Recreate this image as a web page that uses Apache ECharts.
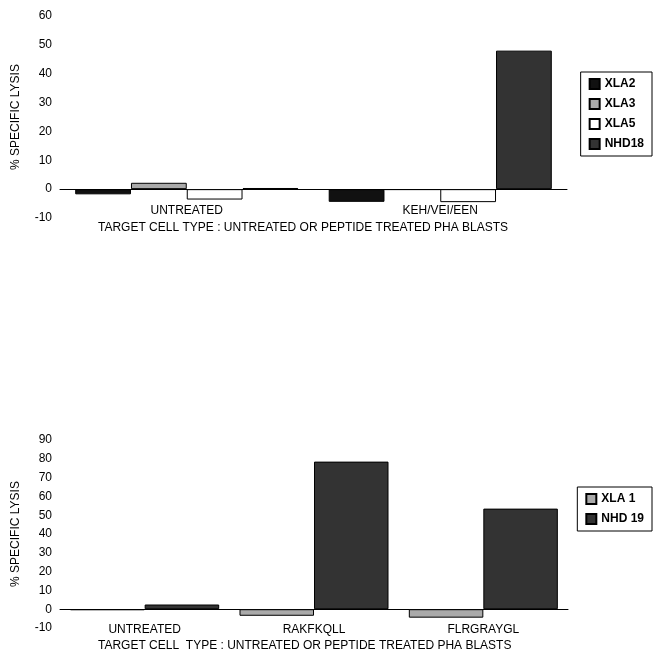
<!DOCTYPE html><html><head><meta charset="utf-8"><script src="https://cdn.jsdelivr.net/npm/echarts@6/dist/echarts.min.js"></script>
<style>body{margin:0;background:#fff}#c{width:658px;height:661px}</style></head><body><div id="c"></div><script>
const cats1=['UNTREATED','KEH/VEI/EEN'];
const xla2=[-1.8,-4.4], xla3=[2.2,-0.3], xla5=[-3.6,-4.5], nhd18=[0.4,48];
const cats2=['UNTREATED','RAKFKQLL','FLRGRAYGL'];
const xla1=[-0.5,-3.5,-4.5], nhd19=[2.5,78.5,53.5];
const ff='Liberation Sans';
const ax={axisLine:{lineStyle:{color:'#000'}},axisTick:{lineStyle:{color:'#000'}},axisLabel:{color:'#000',fontFamily:ff,fontSize:12},splitLine:{show:false}};
const xa=(i,c,m)=>Object.assign({},ax,{gridIndex:i,type:'category',data:c,position:'bottom',axisLine:{onZero:true,lineStyle:{color:'#000'}},axisTick:{lineStyle:{color:'#000'}},axisLabel:{color:'#000',fontFamily:ff,fontSize:12,margin:m}});
const bs={borderColor:'#000',borderWidth:1};
const mk=(n,d,c,i)=>({name:n,type:'bar',data:d,xAxisIndex:i,yAxisIndex:i,barGap:'0%',barCategoryGap:'12%',itemStyle:Object.assign({color:c},bs)});
const lg=(top,d)=>({orient:'vertical',right:6,top:top,icon:'rect',itemWidth:10,itemHeight:10,itemGap:8,padding:[6,8],borderColor:'#000',borderWidth:1,data:d,textStyle:{fontFamily:ff,fontSize:12,fontWeight:'bold',color:'#000'}});
const ch=echarts.init(document.getElementById('c'));
ch.setOption({animation:false,
grid:[{left:60,top:16,width:507,height:202},{left:60,top:440,width:508,height:188}],
xAxis:[xa(0,cats1,-13),xa(1,cats2,-4)],
yAxis:[Object.assign({},ax,{gridIndex:0,min:-10,max:60,interval:10,name:'% SPECIFIC LYSIS',nameLocation:'middle',nameGap:38,nameTextStyle:{color:'#000',fontFamily:ff,fontSize:12}}),
Object.assign({},ax,{gridIndex:1,min:-10,max:90,interval:10,name:'% SPECIFIC LYSIS',nameLocation:'middle',nameGap:38,nameTextStyle:{color:'#000',fontFamily:ff,fontSize:12}})],
legend:[lg(72,['XLA2','XLA3','XLA5','NHD18']),lg(487,['XLA 1','NHD 19'])],
graphic:[{type:'text',left:98,top:222,style:{text:'TARGET CELL TYPE : UNTREATED OR PEPTIDE TREATED PHA BLASTS',font:'12px "Liberation Sans"',fill:'#000'}},
{type:'text',left:98,top:640,style:{text:'TARGET CELL  TYPE : UNTREATED OR PEPTIDE TREATED PHA BLASTS',font:'12px "Liberation Sans"',fill:'#000'}}],
series:[mk('XLA2',xla2,'#111',0),mk('XLA3',xla3,'#aaa',0),mk('XLA5',xla5,'#fff',0),mk('NHD18',nhd18,'#333',0),
mk('XLA 1',xla1,'#aaa',1),mk('NHD 19',nhd19,'#333',1)]});
</script></body></html>
